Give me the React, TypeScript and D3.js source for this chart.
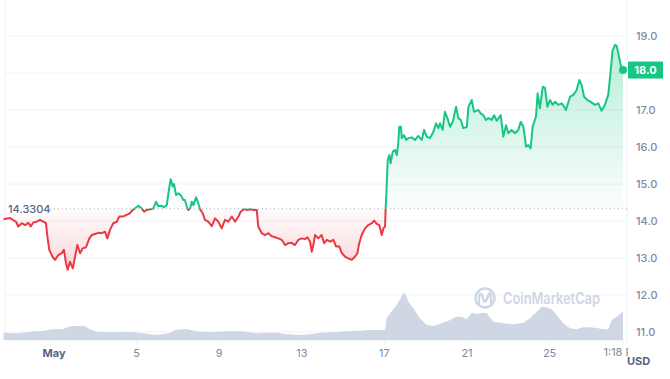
import React from 'react';
import * as d3 from 'd3';

// ---- DATA ----
// time as days since May 1 00:00, price in USD
const dayOffsets = [
  -2.446, -2.13, -1.84, -1.73, -1.56, -1.40, -1.24, -1.13, -1.00, -0.84, -0.68, -0.52, -0.39, -0.32, -0.23, -0.06,
  0.05, 0.21, 0.37, 0.48, 0.58, 0.66, 0.77, 0.91, 1.02, 1.13, 1.26, 1.39, 1.55, 1.71, 1.83, 1.99,
  2.15, 2.31, 2.47, 2.58, 2.71, 2.87, 3.04, 3.16, 3.33, 3.49, 3.68, 3.81, 3.92, 4.08, 4.25, 4.36,
  4.49, 4.65, 4.81, 4.94, 5.05, 5.22, 5.33, 5.46, 5.54, 5.65, 5.75, 5.81, 5.91, 6.02, 6.14, 6.26,
  6.34, 6.43, 6.50, 6.59, 6.67, 6.75, 6.88, 6.99, 7.07, 7.20, 7.31, 7.47, 7.64, 7.80, 7.96, 8.12,
  8.28, 8.44, 8.61, 8.77, 8.93, 9.04, 9.20, 9.33, 9.49, 9.69, 9.82, 9.89, 10.06, 10.22, 10.38, 10.54,
  10.70, 10.86, 11.03, 11.19, 11.35, 11.51, 11.67, 11.83, 12.00, 12.15, 12.27, 12.40, 12.48, 12.56, 12.64, 12.80,
  12.96, 13.08, 13.21, 13.37, 13.53, 13.66, 13.82, 13.93, 14.09, 14.25, 14.42, 14.58, 14.69, 14.78, 14.90, 15.06,
  15.22, 15.39, 15.50, 15.63, 15.75, 15.87, 15.95, 16.03, 16.06, 16.11, 16.16, 16.24, 16.30, 16.40, 16.51, 16.60,
  16.67, 16.72, 16.80, 16.84, 16.95, 17.05, 17.16, 17.32, 17.48, 17.64, 17.81, 17.92, 18.05, 18.21, 18.37, 18.50,
  18.61, 18.69, 18.82, 18.93, 19.05, 19.18, 19.31, 19.47, 19.58, 19.70, 19.82, 19.99, 20.07, 20.23, 20.34, 20.55,
  20.66, 20.79, 20.92, 21.03, 21.20, 21.31, 21.44, 21.63, 21.76, 21.89, 22.00, 22.16, 22.32, 22.48, 22.60, 22.73,
  22.86, 22.97, 23.08, 23.18, 23.34, 23.42, 23.53, 23.67, 23.78, 23.89, 24.02, 24.15, 24.26, 24.42, 24.59, 24.70,
  24.79, 24.99, 25.15, 25.31, 25.44, 25.55, 25.67, 25.83, 25.99, 26.20, 26.36, 26.52, 26.68, 26.84, 26.96, 27.05,
  27.17, 27.25, 27.33, 27.44, 27.554,
];
const prices = [
  14.05, 14.08, 13.98, 13.85, 13.94, 13.89, 13.95, 13.85, 13.96, 13.98, 14.03, 13.98, 13.94, 13.58, 13.22, 13.02,
  12.95, 13.08, 13.13, 13.22, 12.86, 12.68, 12.90, 12.72, 13.04, 13.35, 13.13, 13.26, 13.29, 13.53, 13.62, 13.65,
  13.68, 13.67, 13.71, 13.53, 13.76, 13.94, 13.98, 14.12, 14.12, 14.16, 14.21, 14.30, 14.34, 14.41, 14.34, 14.25,
  14.30, 14.32, 14.34, 14.52, 14.40, 14.41, 14.37, 14.43, 14.75, 15.13, 14.93, 15.00, 14.70, 14.75, 14.70, 14.57,
  14.57, 14.39, 14.30, 14.34, 14.52, 14.43, 14.64, 14.48, 14.32, 14.21, 14.03, 13.98, 13.86, 14.07, 13.98, 13.80,
  14.03, 13.98, 14.12, 13.98, 14.12, 14.25, 14.32, 14.30, 14.32, 14.30, 14.30, 13.85, 13.67, 13.62, 13.67, 13.59,
  13.56, 13.53, 13.49, 13.35, 13.40, 13.41, 13.35, 13.49, 13.53, 13.51, 13.56, 13.44, 13.17, 13.35, 13.62, 13.53,
  13.62, 13.40, 13.49, 13.44, 13.49, 13.31, 13.31, 13.14, 13.04, 12.99, 12.95, 13.04, 13.13, 13.40, 13.62, 13.80,
  13.89, 13.94, 14.01, 13.92, 13.89, 13.62, 13.80, 13.85, 14.34, 14.93, 15.65, 15.78, 15.56, 15.87, 15.92, 15.78,
  16.10, 16.55, 16.55, 16.24, 16.32, 16.19, 16.24, 16.26, 16.19, 16.30, 16.19, 16.46, 16.28, 16.24, 16.41, 16.64,
  16.51, 16.64, 16.46, 16.95, 16.78, 16.55, 16.68, 17.09, 16.78, 16.73, 16.51, 16.54, 17.09, 17.27, 16.95, 17.00,
  16.91, 16.86, 16.73, 16.78, 16.73, 16.86, 16.71, 16.86, 16.28, 16.59, 16.37, 16.46, 16.37, 16.46, 16.68, 16.55,
  16.01, 16.05, 15.96, 16.55, 16.82, 17.45, 17.05, 17.63, 17.59, 17.09, 17.27, 17.14, 17.22, 17.14, 17.18, 17.09,
  17.00, 17.36, 17.41, 17.54, 17.81, 17.68, 17.36, 17.27, 17.22, 17.14, 17.18, 16.98, 17.14, 17.41, 18.08, 18.62,
  18.76, 18.73, 18.53, 18.22, 18.08,
];
// volume (relative units)
const volDayOffsets = [
  -2.446, -1.81, -1.32, -1.00, -0.52, -0.11, 0.45, 0.69, 1.02, 1.50, 1.74, 2.07, 2.55, 3.20, 3.76, 4.32,
  4.81, 5.29, 5.62, 5.86, 6.43, 6.67, 7.07, 7.71, 8.52, 9.01, 9.49, 9.82, 10.14, 10.78, 11.27, 11.91,
  12.40, 12.88, 13.53, 14.17, 14.82, 15.30, 16.03, 16.11, 16.27, 16.60, 16.92, 17.00, 17.16, 17.40, 17.72, 18.05,
  18.37, 18.69, 19.18, 19.50, 19.74, 19.99, 20.23, 20.47, 20.71, 20.95, 21.27, 21.76, 22.24, 22.73, 23.05, 23.38,
  23.62, 23.86, 24.10, 24.34, 24.66, 24.99, 25.31, 25.63, 25.96, 26.28, 26.60, 26.84, 27.01, 27.25, 27.49, 27.554,
];
const volumes = [
  14.6, 13.4, 15.4, 17.4, 18, 21.4, 22, 26.6, 28, 28, 21.4, 16.6, 15.4, 16, 16, 13.4,
  10.6, 11.4, 14.6, 20, 22, 19.4, 16.6, 16, 17.4, 17.4, 15.4, 13.4, 14.6, 14.6, 11.4, 10,
  11.4, 14.6, 15.4, 17.4, 18.6, 20, 20, 43.4, 53.4, 70, 93.4, 94.6, 76.6, 63.4, 43.4, 30,
  28, 32, 40, 46.6, 46.6, 41.4, 54.6, 52, 54.6, 53.4, 36.6, 33.4, 31.4, 34.6, 43.4, 56.6,
  66.6, 65.4, 61.4, 50, 33.4, 23.4, 21.4, 25.4, 25.4, 24, 21.4, 21.4, 40, 46.6, 54.6, 56.6,
];
const priceTicks = [11, 12, 13, 14, 15, 16, 17, 18, 19];
const dateTickDays = [1, 5, 9, 13, 17, 21, 25];
const openPrice = 14.3304;
const openPriceLabel = '14.3304';
const lastPriceLabel = '18.0';
const lastTimeLabel = '1:18 PM';
const currencyLabel = 'USD';
const watermark = 'CoinMarketCap';

// ---- STYLE ----
const W = 670;
const H = 379;
const GREEN = '#16c784';
const RED = '#ea3943';
const GRID = '#eff2f5';
const AXIS_TEXT = '#808a9d';
const DARK_TEXT = '#58667e';
const FONT = 'Inter, "Noto Sans", sans-serif';
const DAY = 864e5;
const MAY1 = new Date(2024, 4, 1).getTime();

export default function App() {
  const toDate = (d: number) => new Date(MAY1 + d * DAY);
  const start = toDate(dayOffsets[0]);
  const end = toDate(dayOffsets[dayOffsets.length - 1]);

  const plotLeft = 5;
  const plotRight = 627;
  const plotBottom = 341;

  const x = d3.scaleTime().domain([start, end]).range([3.5, 623]);
  const y = d3.scaleLinear().domain([11, 19]).range([332, 36]);
  const yVol = d3.scaleLinear().domain([0, 100]).range([340, 290]);

  const series = dayOffsets.map((d, i) => ({ t: toDate(d), v: prices[i] }));
  const volSeries = volDayOffsets.map((d, i) => ({ t: toDate(d), v: volumes[i] }));

  const yBase = y(openPrice);

  const line = d3.line<{ t: Date; v: number }>().x((d) => x(d.t)).y((d) => y(d.v));
  const area = d3
    .area<{ t: Date; v: number }>()
    .x((d) => x(d.t))
    .y0(yBase)
    .y1((d) => y(d.v));
  const volArea = d3
    .area<{ t: Date; v: number }>()
    .x((d) => x(d.t))
    .y0(yVol(0))
    .y1((d) => yVol(d.v));

  const last = series[series.length - 1];
  const lastX = x(last.t);
  const lastY = y(last.v);

  const dateTicks = dateTickDays.map((d) => new Date(2024, 4, d));
  const visibleTicks = priceTicks.filter((p) => Math.abs(y(p) - lastY) > 12);

  return (
    <svg
      width={W}
      height={H}
      style={{ position: 'absolute', left: 0, top: 0, background: '#fff', fontFamily: FONT }}
    >
      <defs>
        <clipPath id="above">
          <rect x={0} y={0} width={W} height={yBase} />
        </clipPath>
        <clipPath id="below">
          <rect x={0} y={yBase} width={W} height={H - yBase} />
        </clipPath>
        <clipPath id="xlabelclip">
          <rect x={0} y={0} width={628} height={H} />
        </clipPath>
        <linearGradient id="gGreen" gradientUnits="userSpaceOnUse" x1={0} x2={0} y1={y(19)} y2={yBase}>
          <stop offset="0" stopColor={GREEN} stopOpacity={0.32} />
          <stop offset="1" stopColor={GREEN} stopOpacity={0.02} />
        </linearGradient>
        <linearGradient id="gRed" gradientUnits="userSpaceOnUse" x1={0} x2={0} y1={yBase} y2={y(12.7)}>
          <stop offset="0" stopColor={RED} stopOpacity={0.02} />
          <stop offset="1" stopColor={RED} stopOpacity={0.2} />
        </linearGradient>
      </defs>

      {/* grid */}
      {priceTicks.map((p) => (
        <line key={p} x1={plotLeft} x2={plotRight} y1={y(p)} y2={y(p)} stroke={GRID} strokeWidth={1} />
      ))}
      <line x1={plotLeft} x2={plotLeft} y1={0} y2={plotBottom} stroke={GRID} />
      <line x1={plotRight} x2={plotRight} y1={0} y2={plotBottom} stroke={GRID} />
      <line x1={plotLeft} x2={plotRight} y1={plotBottom} y2={plotBottom} stroke={GRID} />

      {/* volume */}
      <path d={volArea(volSeries) || ''} fill="#cfd6e4" />

      {/* watermark */}
      <g fill="none" stroke="#cfd6e4" strokeWidth={2.4} strokeLinecap="round" strokeLinejoin="round">
        <circle cx={485} cy={298} r={9.5} />
        <path d="M479 303 L479 296 Q480 292 482 295 L484 301 Q485 303 486.5 300 L489 294 Q490.5 292 491 296 L491 303" />
      </g>
      <text x={503} y={304} fontSize={16} fontWeight={600} fill="#cfd6e4" textLength={97} lengthAdjust="spacingAndGlyphs">
        {watermark}
      </text>

      {/* areas */}
      <path d={area(series) || ''} fill="url(#gGreen)" clipPath="url(#above)" />
      <path d={area(series) || ''} fill="url(#gRed)" clipPath="url(#below)" />

      {/* open price dotted line */}
      <line x1={50} x2={plotRight} y1={yBase} y2={yBase} stroke="#a7b0c0" strokeWidth={1} strokeDasharray="1 3" />

      {/* price line */}
      <path d={line(series) || ''} fill="none" stroke={GREEN} strokeWidth={2} strokeLinejoin="round" clipPath="url(#above)" />
      <path d={line(series) || ''} fill="none" stroke={RED} strokeWidth={2} strokeLinejoin="round" clipPath="url(#below)" />

      {/* open label */}
      <rect x={6} y={yBase - 7.5} width={44} height={15} fill="#fff" fillOpacity={0.85} />
      <text x={8} y={yBase} dy="0.35em" fontSize={11} fontWeight={500} fill={DARK_TEXT}>
        {openPriceLabel}
      </text>

      {/* end dot */}
      <circle cx={lastX} cy={lastY} r={4} fill={GREEN} />

      {/* y axis labels */}
      {visibleTicks.map((p) => (
        <text key={p} x={636} y={y(p)} dy="0.35em" fontSize={11} fontWeight={500} fill={AXIS_TEXT}>
          {p.toFixed(1)}
        </text>
      ))}

      {/* last price badge */}
      <rect x={628} y={lastY - 8.5} width={35} height={17} fill={GREEN} />
      <text x={645.5} y={lastY} dy="0.35em" textAnchor="middle" fontSize={11} fontWeight={700} fill="#fff">
        {lastPriceLabel}
      </text>

      {/* x axis */}
      {dateTicks.map((d) => (
        <g key={d.getTime()}>
          <line x1={x(d)} x2={x(d)} y1={plotBottom} y2={plotBottom + 4} stroke={GRID} />
          <text
            x={x(d)}
            y={353}
            dy="0.35em"
            textAnchor="middle"
            fontSize={11}
            fontWeight={d.getDate() === 1 ? 700 : 400}
            fill={d.getDate() === 1 ? DARK_TEXT : AXIS_TEXT}
          >
            {d.getDate() === 1 ? d3.timeFormat('%b')(d) : String(d.getDate())}
          </text>
        </g>
      ))}
      <line x1={lastX} x2={lastX} y1={plotBottom} y2={plotBottom + 4} stroke={GRID} />
      <text
        x={lastX}
        y={352}
        dy="0.35em"
        textAnchor="middle"
        fontSize={11}
        fill={AXIS_TEXT}
        clipPath="url(#xlabelclip)"
      >
        {lastTimeLabel}
      </text>
      <text x={627} y={361} dy="0.35em" fontSize={11} fontWeight={700} fill={DARK_TEXT}>
        {currencyLabel}
      </text>
    </svg>
  );
}
